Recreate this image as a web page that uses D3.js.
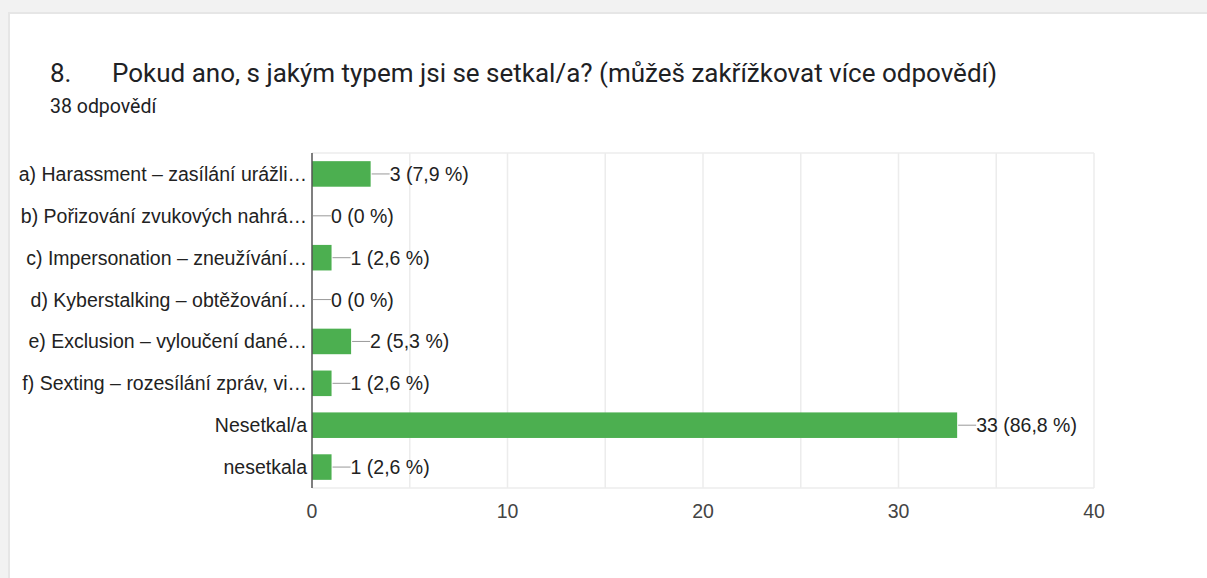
<!DOCTYPE html>
<html>
<head>
<meta charset="utf-8">
<script src="https://cdn.jsdelivr.net/npm/d3@7"></script>
<style>
  html, body { margin: 0; padding: 0; background: #f2f2f2; }
  svg { display: block; }
</style>
</head>
<body>
<div id="chart"></div>
<script>
(function() {
  var categories = [
    'a) Harassment – zasílání urážli…',
    'b) Pořizování zvukových nahrá…',
    'c) Impersonation – zneužívání…',
    'd) Kyberstalking – obtěžování…',
    'e) Exclusion – vyloučení dané…',
    'f) Sexting – rozesílání zpráv, vi…',
    'Nesetkal/a',
    'nesetkala'
  ];
  var counts = [3, 0, 1, 0, 2, 1, 33, 1];
  var percents = ['7,9', '0', '2,6', '0', '5,3', '2,6', '86,8', '2,6'];
  var xTicks = [0, 10, 20, 30, 40];
  var gridTicks = [5, 10, 15, 20, 25, 30, 35, 40];

  var width = 1207, height = 578;
  var left = 312, right = 1094, top = 153, bottom = 488;
  var labelFont = 'Liberation Sans, Arial';

  var svg = d3.select('#chart').append('svg')
    .attr('width', width).attr('height', height);

  // card
  svg.append('rect').attr('x', 8).attr('y', 12).attr('width', width).attr('height', height)
    .attr('fill', '#e6e6e6');
  svg.append('rect').attr('x', 10).attr('y', 14).attr('width', width).attr('height', height)
    .attr('fill', '#ffffff');

  svg.append('text').attr('x', 50).attr('y', 82)
    .attr('font-family', 'Roboto').attr('font-size', 26).attr('fill', '#202124')
    .text('8.');
  svg.append('text').attr('x', 112).attr('y', 82)
    .attr('font-family', 'Roboto').attr('font-size', 26).attr('fill', '#202124')
    .text('Pokud ano, s jakým typem jsi se setkal/a? (můžeš zakřížkovat více odpovědí)');
  svg.append('text').attr('x', 50).attr('y', 113)
    .attr('font-family', 'Roboto').attr('font-size', 19.5).attr('fill', '#202124')
    .text('38 odpovědí');

  var x = d3.scaleLinear().domain([0, 40]).range([left, right]);
  var y = d3.scaleBand().domain(categories).range([top, bottom])
    .paddingInner(0.39).paddingOuter(0.195);

  var data = categories.map(function(c, i) {
    return { name: c, value: counts[i], pct: percents[i] };
  });

  // grid
  svg.append('g').selectAll('line').data(gridTicks).enter().append('line')
    .attr('x1', function(d) { return x(d); }).attr('x2', function(d) { return x(d); })
    .attr('y1', top).attr('y2', bottom)
    .attr('stroke', '#ececec').attr('stroke-width', 1.5);
  svg.append('line').attr('x1', left).attr('x2', right).attr('y1', top).attr('y2', top)
    .attr('stroke', '#ececec').attr('stroke-width', 1.5);
  svg.append('line').attr('x1', left).attr('x2', right).attr('y1', bottom).attr('y2', bottom)
    .attr('stroke', '#ececec').attr('stroke-width', 1.5);

  // bars
  svg.append('g').selectAll('rect').data(data).enter().append('rect')
    .attr('x', x(0))
    .attr('y', function(d) { return y(d.name); })
    .attr('width', function(d) { return x(d.value) - x(0); })
    .attr('height', y.bandwidth())
    .attr('fill', '#4caf50');

  // axis line
  svg.append('line').attr('x1', x(0)).attr('x2', x(0)).attr('y1', top).attr('y2', bottom)
    .attr('stroke', '#555').attr('stroke-width', 1.5);

  // leaders + value labels
  var lab = svg.append('g').selectAll('g').data(data).enter().append('g');
  lab.append('line')
    .attr('x1', function(d) { return x(d.value) + 1; })
    .attr('x2', function(d) { return x(d.value) + 19; })
    .attr('y1', function(d) { return y(d.name) + y.bandwidth() / 2; })
    .attr('y2', function(d) { return y(d.name) + y.bandwidth() / 2; })
    .attr('stroke', '#999').attr('stroke-width', 1);
  lab.append('text')
    .attr('x', function(d) { return x(d.value) + 19; })
    .attr('y', function(d) { return y(d.name) + y.bandwidth() / 2; })
    .attr('dy', '0.36em')
    .attr('font-family', labelFont).attr('font-size', 19.5).attr('fill', '#222')
    .text(function(d) { return d.value + ' (' + d.pct + ' %)'; });

  // category labels
  svg.append('g').selectAll('text').data(data).enter().append('text')
    .attr('x', x(0) - 5)
    .attr('y', function(d) { return y(d.name) + y.bandwidth() / 2; })
    .attr('dy', '0.36em').attr('text-anchor', 'end')
    .attr('font-family', labelFont).attr('font-size', 19.5).attr('fill', '#222')
    .text(function(d) { return d.name; });

  // x tick labels
  svg.append('g').selectAll('text').data(xTicks).enter().append('text')
    .attr('x', function(d) { return x(d); })
    .attr('y', 518).attr('text-anchor', 'middle')
    .attr('font-family', labelFont).attr('font-size', 19.5).attr('fill', '#444')
    .text(function(d) { return d; });
})();
</script>
</body>
</html>
